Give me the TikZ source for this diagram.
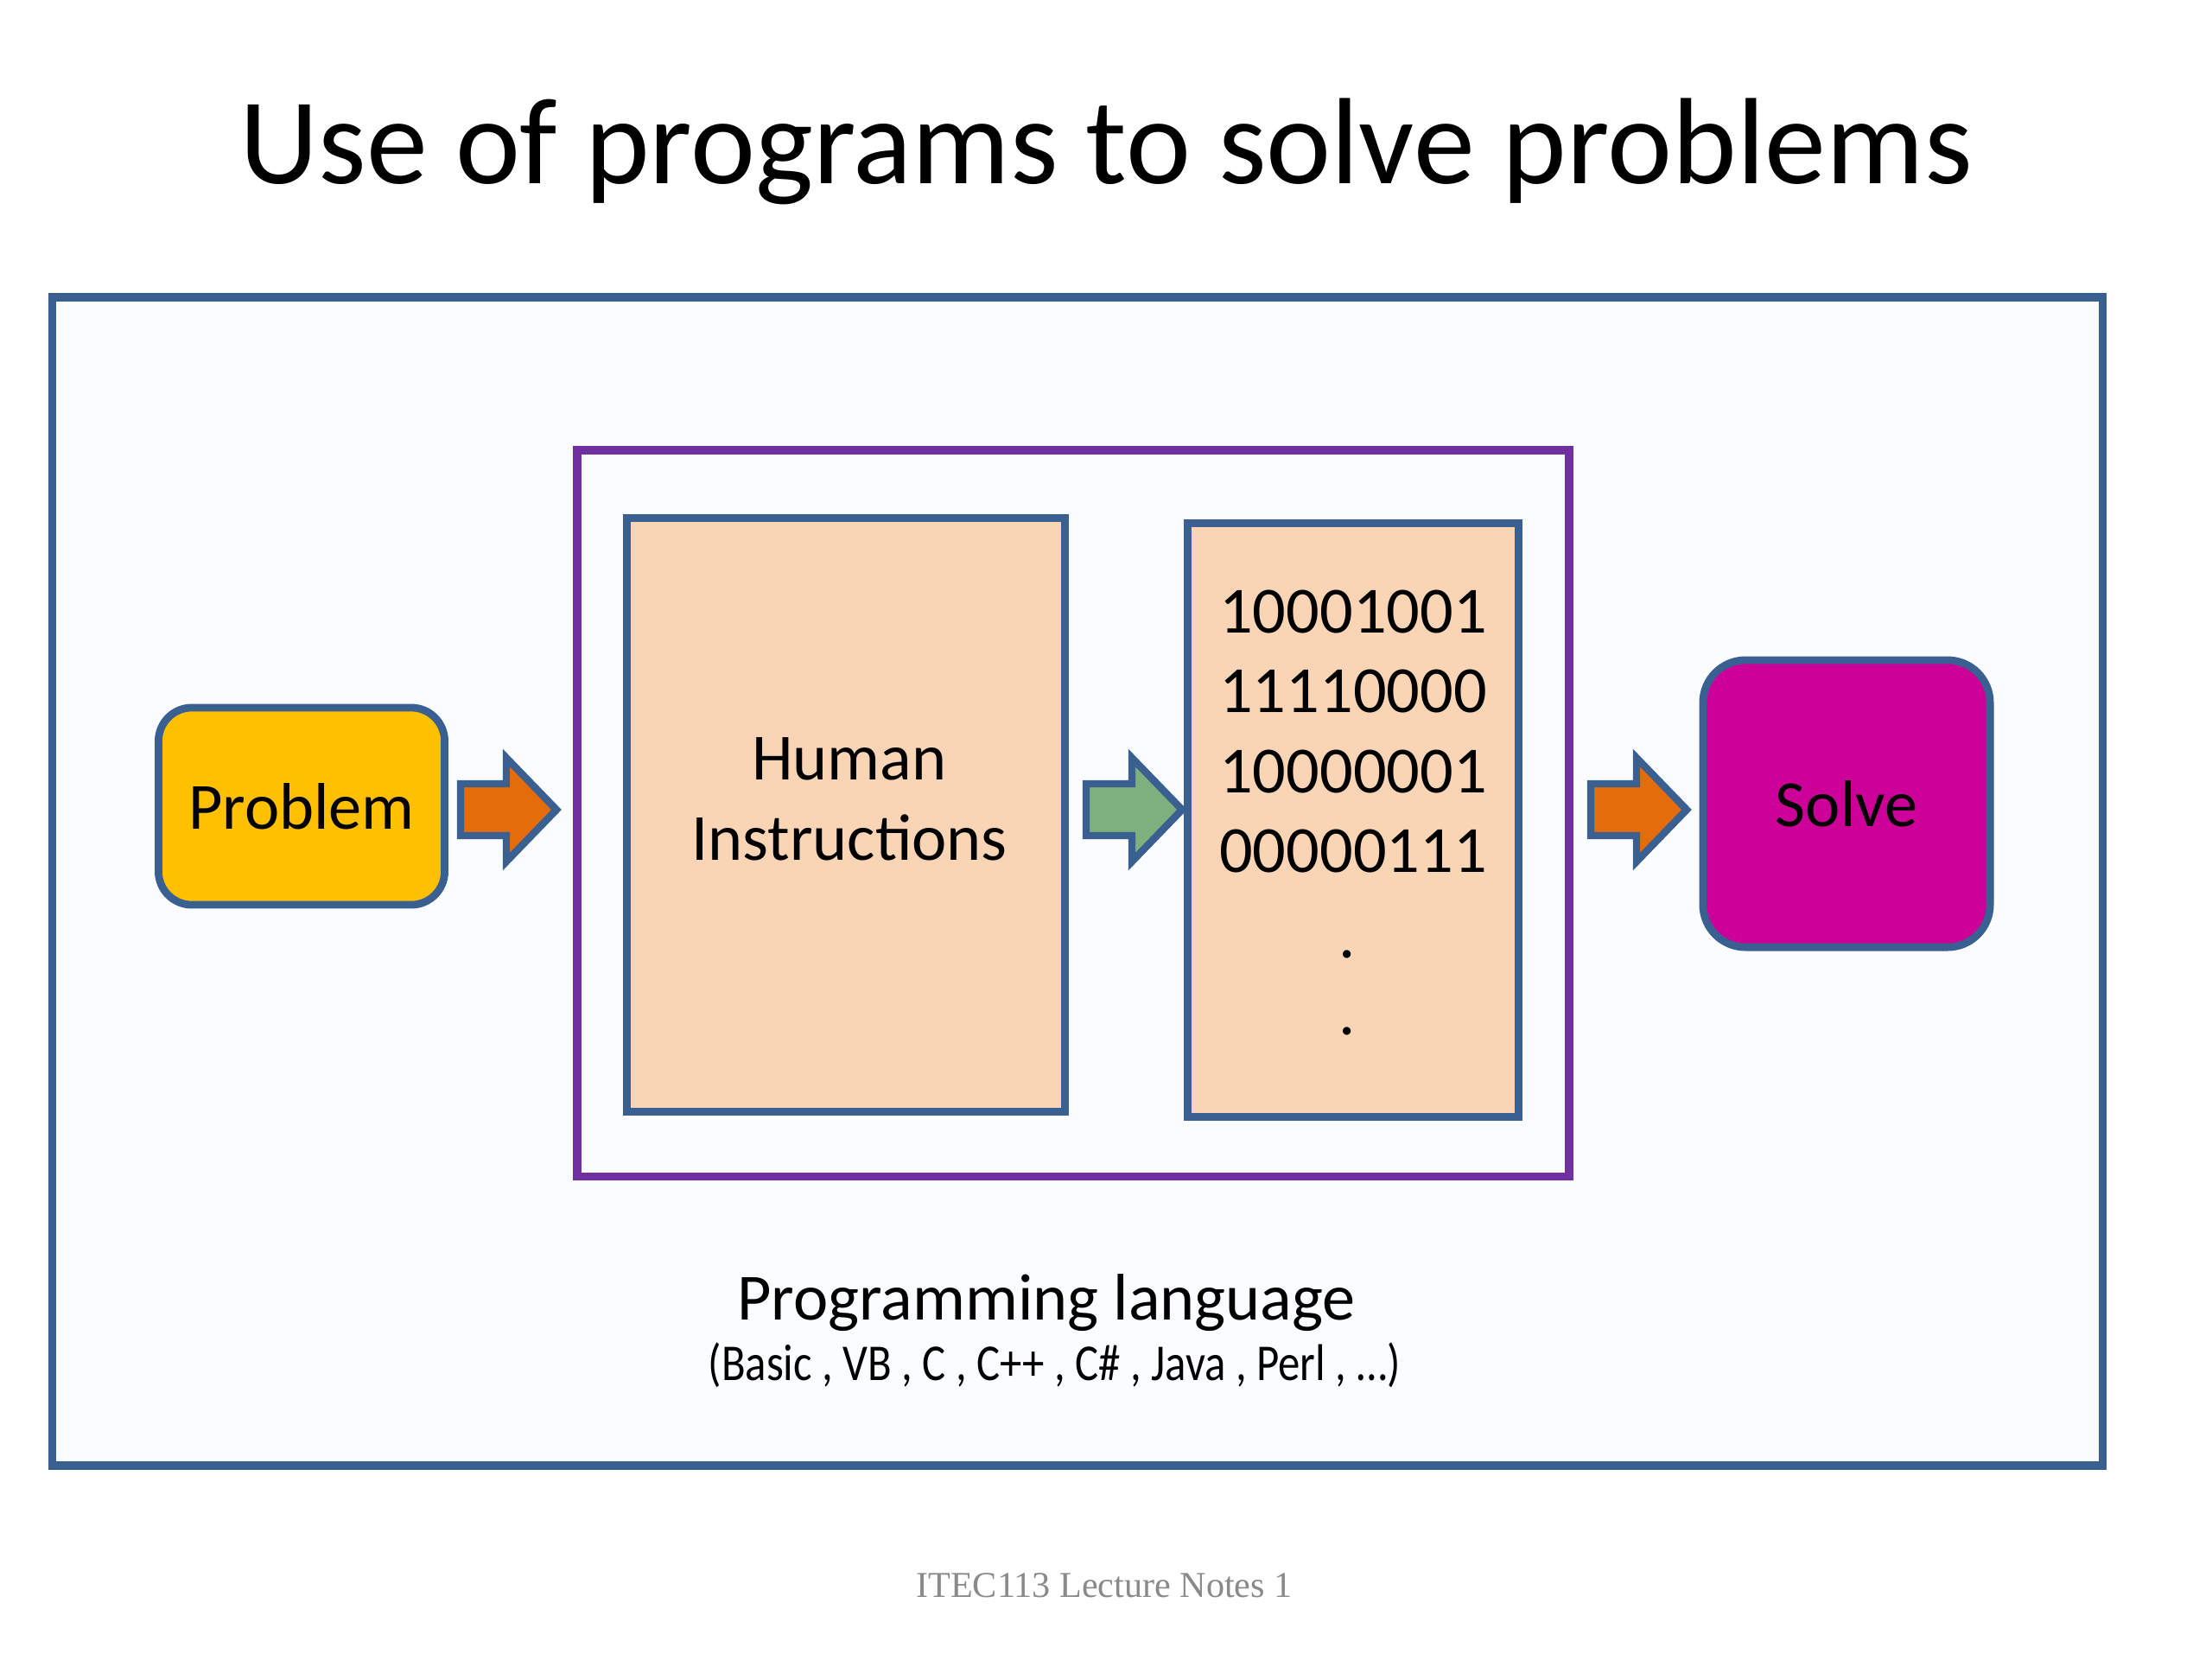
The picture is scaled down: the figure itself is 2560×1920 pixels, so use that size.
\documentclass[tikz,border=0pt]{standalone}
\usepackage{fontspec}
\usepackage{graphicx}
\setmainfont{Carlito}
\newfontfamily\footfont{Liberation Serif}
\definecolor{boxblue}{RGB}{58,95,145}
\definecolor{boxpurple}{RGB}{112,48,160}
\definecolor{peach}{RGB}{250,213,181}
\definecolor{gold}{RGB}{255,192,0}
\definecolor{magentabox}{RGB}{204,0,153}
\definecolor{arroworange}{RGB}{228,108,10}
\definecolor{arrowgreen}{RGB}{126,176,126}
\definecolor{panelfill}{RGB}{250,252,255}
\definecolor{footgray}{RGB}{138,138,138}
\tikzset{
  bigfont/.style={font=\fontsize{21.7}{26}\selectfont},
  panel/.style={draw=boxblue, line width=2.7pt, fill=panelfill, minimum width=23.72cm, minimum height=13.51cm, inner sep=0pt},
  frame/.style={draw=boxpurple, line width=2.7pt, minimum width=11.47cm, minimum height=8.40cm, inner sep=0pt},
  codebox/.style={draw=boxblue, line width=2.5pt, fill=peach, inner sep=0pt},
  roundbox/.style={draw=boxblue, line width=2.5pt, inner sep=0pt, bigfont},
  blockarrow/.style={draw=boxblue, line width=2.4pt, line join=miter},
  txt/.style={inner sep=0pt, anchor=base, bigfont},
}
\begin{document}
\begin{tikzpicture}[x=0.01cm, y=-0.01cm]
\useasboundingbox (0,0) rectangle (2560,1920);
\fill[white] (0,0) rectangle (2560,1920);

% title
\node[inner sep=0pt, anchor=base, font=\fontsize{40.4}{48}\selectfont] (title) at (1280,212) {Use of programs to solve problems};

% outer panel and purple frame
\node[panel] (panel) at (1247,1020) {};
\node[frame] (frame) at (1242,941) {};

% boxes
\node[codebox, minimum width=5.06cm, minimum height=6.86cm] (human) at (979,943) {};
\node[codebox, minimum width=3.83cm, minimum height=6.86cm] (binary) at (1566,949) {};
\node[roundbox, fill=gold, rounded corners=11pt, minimum width=3.31cm, minimum height=2.28cm] (problem) at (349,933) {Problem};
\node[roundbox, fill=magentabox, rounded corners=14pt, minimum width=3.32cm, minimum height=3.32cm] (solve) at (2137,930) {Solve};

% human instructions text
\node[txt] (h1) at (983,902) {Human};
\node[txt] (h2) at (983,995) {Instructions};

% binary text
\node[txt] (b1) at (1566,732) {10001001};
\node[txt] (b2) at (1566,824) {11110000};
\node[txt] (b3) at (1566,917) {10000001};
\node[txt] (b4) at (1566,1009) {00000111};
\node[txt] (b5) at (1559,1108) {.};
\node[txt] (b6) at (1559,1197) {.};

% block arrows
\coordinate (a1) at (533,937);
\coordinate (a2) at (1257,937);
\coordinate (a3) at (1841,937);
\foreach \c/\col in {a1/arroworange, a2/arrowgreen, a3/arroworange}{
  \draw[blockarrow, fill=\col, shift={(\c)}] (0,-30) -- (53,-30) -- (53,-60) -- (111,0) -- (53,60) -- (53,30) -- (0,30) -- cycle;
}

% captions
\node[txt] (pl) at (1211,1527) {Programming language};
\node[inner sep=0pt, anchor=base, font=\fontsize{17}{20}\selectfont] (langs) at (1220,1597) {\scalebox{0.85}[1]{(Basic , VB , C , C++ , C\# , Java , Perl , …)}};

% footer
\node[inner sep=0pt, anchor=base, text=footgray, font=\footfont\fontsize{12}{14}\selectfont] (foot) at (1278,1848) {ITEC113 Lecture Notes 1};
\end{tikzpicture}
\end{document}
